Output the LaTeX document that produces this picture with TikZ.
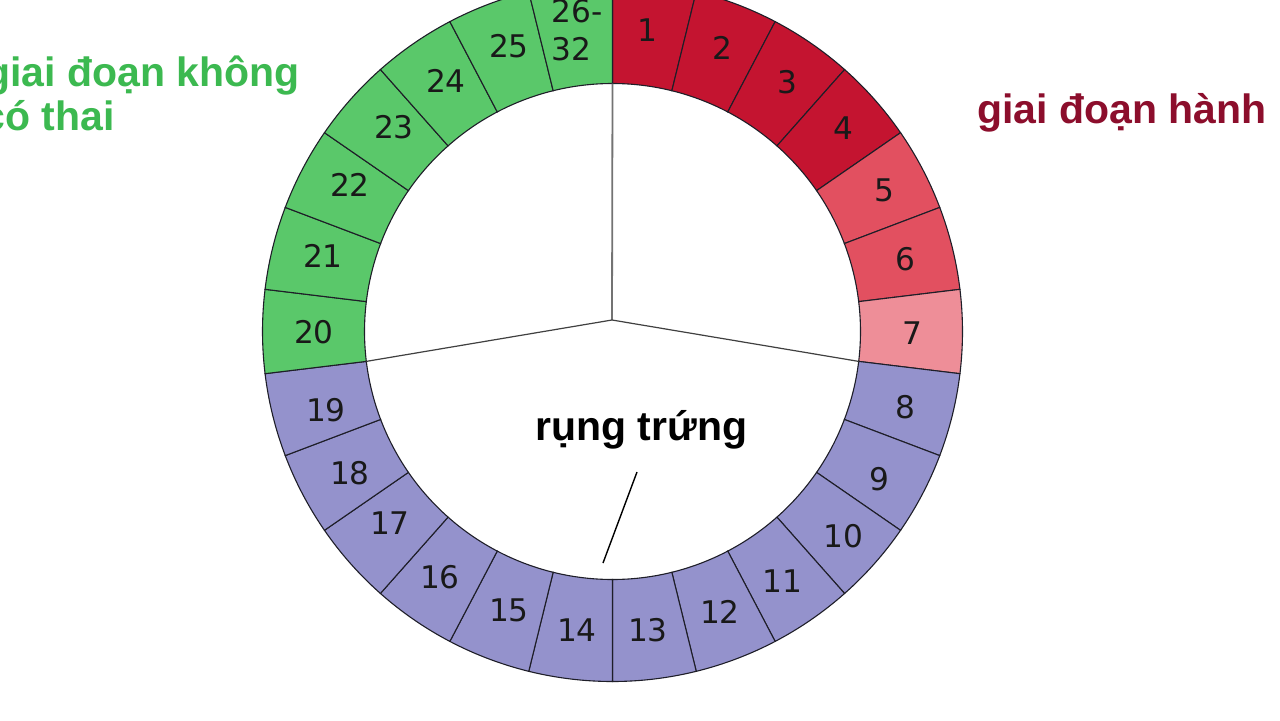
\documentclass[tikz,border=0pt]{standalone}
\usepackage{fontspec}
\setmainfont{Liberation Sans}
\newfontfamily\numfont{DejaVu Sans}
\definecolor{sA}{RGB}{196,20,48}
\definecolor{sB}{RGB}{226,80,96}
\definecolor{sC}{RGB}{238,142,152}
\definecolor{sP}{RGB}{148,146,204}
\definecolor{sG}{RGB}{90,200,106}
\definecolor{segline}{RGB}{30,30,40}
\definecolor{greentxt}{RGB}{60,185,80}
\definecolor{redtxt}{RGB}{140,14,44}
\begin{document}
\begin{tikzpicture}[x=0.5pt,y=0.5pt,
  seg/.style={draw=segline,line width=0.55pt},
  num/.style={font=\numfont\fontsize{15.6}{19}\selectfont,text=black!90,inner sep=0},
  lbl/.style={font=\bfseries\fontsize{20.5}{24}\selectfont,inner sep=0,anchor=base west},
  radial/.style={draw=black!75,line width=0.6pt}]
\useasboundingbox (0,0) rectangle (1280,720);
\fill[white] (0,0) rectangle (1280,720);
\begin{scope}[shift={(612.5,388.5)}]
\foreach \k/\c in {1/sA,2/sA,3/sA,4/sA,5/sB,6/sB,7/sC,
  8/sP,9/sP,10/sP,11/sP,12/sP,13/sP,14/sP,15/sP,16/sP,17/sP,18/sP,19/sP,
  20/sG,21/sG,22/sG,23/sG,24/sG,25/sG,26/sG} {
  \pgfmathsetmacro\a{90-(\k-1)*360/26}
  \pgfmathsetmacro\b{90-\k*360/26}
  \filldraw[seg,fill=\c] (\a:350) arc[start angle=\a,end angle=\b,radius=350]
     -- (\b:248) arc[start angle=\b,end angle=\a,radius=248] -- cycle;
}
\coordinate (J) at (-0.5,11.5);
\coordinate (top) at (90:248);
\coordinate (r78) at ({90-7*360/26}:248);
\coordinate (r1920) at ({90-19*360/26}:248);
\draw[radial,draw=black!55,line width=0.9pt] (J) -- (top);
\draw[radial] (J) -- (r78);
\draw[radial] (J) -- (r1920);
\coordinate (p1) at (24.5,-140.5);
\coordinate (p2) at (-9.5,-231.5);
\draw[black,line width=0.7pt] (p1) -- (p2);
\end{scope}
\foreach \k/\x/\y in {1/647/30,2/722/48,3/787/82,4/843/128,5/884/190,6/905/259,7/912/333,
  8/905/407,9/879/479,10/843/536,11/782/581,12/720/612,13/648/630,
  14/577/630,15/509/610,16/440/577,17/390/523,18/350/473,19/326/410,
  20/314/332,21/323/256,22/350/185,23/394/127,24/446/81,25/509/46} {
  \node[num] (n\k) at (\x,720-\y) {\k};
}
\node[num,align=left] (n26) at (577,690) {26-\\32};
\node[lbl,text=greentxt] (g1) at (-15,634) {giai đoạn không};
\node[lbl,text=greentxt] (g2) at (-18,590) {có thai};
\node[lbl,text=redtxt] (r1) at (977,597) {giai đoạn hành};
\node[lbl,text=black] (ov) at (535,280) {rụng trứng};
\end{tikzpicture}
\end{document}
